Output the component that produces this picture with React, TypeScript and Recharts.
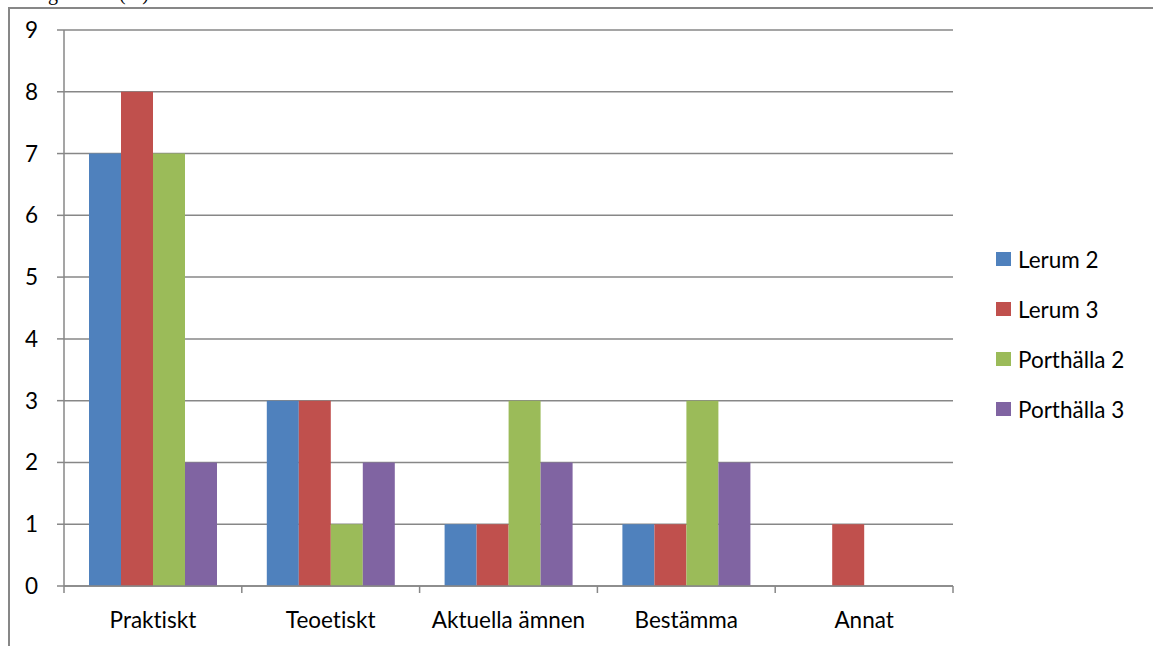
import React from 'react';
import { BarChart, Bar, XAxis, YAxis, CartesianGrid } from 'recharts';

const categories = ['Praktiskt', 'Teoetiskt', 'Aktuella ämnen', 'Bestämma', 'Annat'];
const lerum2 = [7, 3, 1, 1, 0];
const lerum3 = [8, 3, 1, 1, 1];
const porthalla2 = [7, 1, 3, 3, 0];
const porthalla3 = [2, 2, 2, 2, 0];
const yTicks = [0, 1, 2, 3, 4, 5, 6, 7, 8, 9];

const series = [
  { key: 'lerum2', name: 'Lerum 2', color: '#4F81BD' },
  { key: 'lerum3', name: 'Lerum 3', color: '#C0504D' },
  { key: 'porthalla2', name: 'Porthälla 2', color: '#9BBB59' },
  { key: 'porthalla3', name: 'Porthälla 3', color: '#8064A2' },
];

const data = categories.map((name, i) => ({
  name,
  lerum2: lerum2[i],
  lerum3: lerum3[i],
  porthalla2: porthalla2[i],
  porthalla3: porthalla3[i],
}));

const FONT = 'Lato, "Open Sans", sans-serif';
const FS = 22.5;
const GRID = '#878787';
const PLOT_LEFT = 64;
const PLOT_RIGHT = 953;
const BAND = (PLOT_RIGHT - PLOT_LEFT) / categories.length;

const XTick = (props: any) => {
  const { x, y, payload, index } = props;
  return (
    <g>
      <line x1={x - BAND / 2} x2={x - BAND / 2} y1={y} y2={y + 7} stroke={GRID} strokeWidth={1.5} />
      {index === categories.length - 1 && (
        <line x1={x + BAND / 2} x2={x + BAND / 2} y1={y} y2={y + 7} stroke={GRID} strokeWidth={1.5} />
      )}
      <text x={x} y={y + 42} textAnchor="middle" fill="#000" fontSize={FS} fontFamily={FONT}>
        {payload.value}
      </text>
    </g>
  );
};

export default function App() {
  return (
    <div style={{
      position: 'fixed', left: 0, top: 0, width: 1153, height: 646, overflow: 'hidden',
      background: '#fff', fontVariantLigatures: 'none',
    }}>
      {/* title sits above the crop, only its descenders show */}
      <svg style={{ position: 'absolute', left: 0, top: 0 }} width={400} height={10}>
        <text x={19} y={0} fontSize={20} fontFamily='"Liberation Serif", serif' fill="#000">
          Diagram 10 (%)
        </text>
      </svg>
      <div style={{
        position: 'absolute', left: 8, top: 7, width: 1300, height: 800,
        borderLeft: `2px solid ${GRID}`, borderTop: `2px solid ${GRID}`,
      }} />
      <div style={{ position: 'absolute', left: 0, top: 0 }}>
        <BarChart
          width={1153}
          height={646}
          data={data}
          margin={{ top: 30, right: 1153 - PLOT_RIGHT, bottom: 0, left: 14 }}
          barCategoryGap={25}
          barGap={0}
        >
          <CartesianGrid vertical={false} stroke={GRID} strokeWidth={1.5} />
          <YAxis
            width={50}
            domain={[0, 9]}
            ticks={yTicks}
            interval={0}
            tickSize={7}
            tickMargin={19}
            axisLine={{ stroke: GRID, strokeWidth: 1.5 }}
            tickLine={{ stroke: GRID, strokeWidth: 1.5 }}
            tick={{ fill: '#000', fontSize: FS, fontFamily: FONT }}
          />
          <XAxis
            dataKey="name"
            height={60}
            interval={0}
            tickSize={0}
            tickMargin={0}
            tickLine={false}
            axisLine={{ stroke: GRID, strokeWidth: 1.5 }}
            tick={<XTick />}
          />
          {series.map((s) => (
            <Bar key={s.key} dataKey={s.key} name={s.name} fill={s.color} isAnimationActive={false} />
          ))}
        </BarChart>
      </div>
      <div style={{ position: 'absolute', left: 996, top: 234 }}>
        {series.map((s) => (
          <div key={s.key} style={{ display: 'flex', alignItems: 'center', height: 50, fontFamily: FONT, fontSize: FS, color: '#000' }}>
            <span style={{ display: 'inline-block', width: 15, height: 14, background: s.color, marginRight: 7 }} />
            {s.name}
          </div>
        ))}
      </div>
    </div>
  );
}
